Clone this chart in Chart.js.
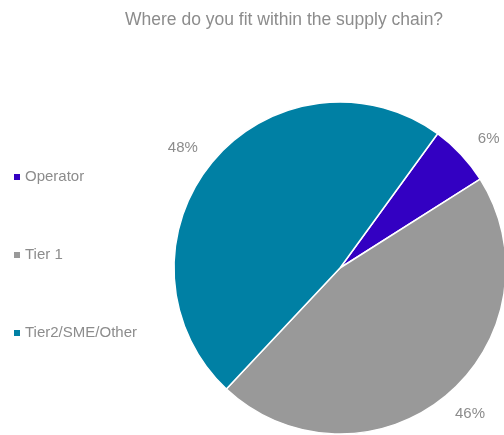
<!DOCTYPE html>
<html>
<head>
<meta charset="utf-8">
<script src="https://cdn.jsdelivr.net/npm/chart.js@4/dist/chart.umd.min.js"></script>
<style>
  html, body { margin: 0; padding: 0; background: #fff; }
  .chart-container { width: 504px; height: 435px; overflow: hidden; position: relative; }
  .chart-container canvas { display: block; }
</style>
</head>
<body>
<div class="chart-container">
  <canvas id="supplyChain" width="560" height="500"></canvas>
</div>
<script>
// Survey answers
var categories = ['Operator', 'Tier 1', 'Tier2/SME/Other'];
var shares = [6, 46, 48];
var sliceColors = ['#3300C2', '#999999', '#0080A4'];

var textColor = '#8c8c8c';
var fontFamily = '"Liberation Sans", Arial, Helvetica, sans-serif';

// Left-hand legend with widely spaced entries
var sideLegend = {
  id: 'sideLegend',
  afterDraw: function (chart, args, opts) {
    var ctx = chart.ctx;
    var meta = chart.getDatasetMeta(0);
    ctx.save();
    ctx.font = opts.fontSize + 'px ' + fontFamily;
    ctx.textBaseline = 'middle';
    ctx.textAlign = 'left';
    chart.data.labels.forEach(function (label, i) {
      var y = opts.top + i * opts.step;
      ctx.fillStyle = meta.data[i].options.backgroundColor;
      ctx.fillRect(opts.x, y - opts.box / 2, opts.box, opts.box);
      ctx.fillStyle = textColor;
      ctx.fillText(label, opts.x + opts.box + 5, y);
    });
    ctx.restore();
  }
};

// Percentage labels just outside each slice (wider gap sideways than up/down)
var outsideLabels = {
  id: 'outsideLabels',
  afterDatasetsDraw: function (chart, args, opts) {
    var ctx = chart.ctx;
    var meta = chart.getDatasetMeta(0);
    var values = chart.data.datasets[0].data;
    var total = values.reduce(function (a, b) { return a + b; }, 0);
    ctx.save();
    ctx.font = opts.fontSize + 'px ' + fontFamily;
    ctx.fillStyle = textColor;
    ctx.textAlign = 'center';
    ctx.textBaseline = 'middle';
    meta.data.forEach(function (arc, i) {
      var p = arc.getProps(['x', 'y', 'startAngle', 'endAngle', 'outerRadius'], true);
      var mid = (p.startAngle + p.endAngle) / 2;
      var dx = p.outerRadius + opts.gapX;
      var dy = p.outerRadius + opts.gapY;
      var txt = Math.round(values[i] / total * 100) + '%';
      ctx.fillText(txt, p.x + Math.cos(mid) * dx, p.y + Math.sin(mid) * dy);
    });
    ctx.restore();
  }
};

var ctx = document.getElementById('supplyChain').getContext('2d');
var myChart = new Chart(ctx, {
  type: 'pie',
  data: {
    labels: categories,
    datasets: [{
      data: shares,
      backgroundColor: sliceColors,
      borderColor: '#ffffff',
      borderWidth: 1.5,
      radius: 166
    }]
  },
  options: {
    responsive: false,
    animation: false,
    rotation: 36,
    layout: {
      padding: { left: 125, right: 5, top: 0, bottom: 3 }
    },
    plugins: {
      legend: { display: false },
      tooltip: { enabled: false },
      title: {
        display: true,
        text: 'Where do you fit within the supply chain?',
        align: 'start',
        color: textColor,
        font: { family: fontFamily, size: 17.5, weight: 'normal' },
        padding: { top: 10, bottom: 8 }
      },
      sideLegend: { x: 14, top: 177, step: 78, box: 6, fontSize: 15 },
      outsideLabels: { gapX: 38, gapY: 23, fontSize: 15 }
    }
  },
  plugins: [sideLegend, outsideLabels]
});
</script>
</body>
</html>
